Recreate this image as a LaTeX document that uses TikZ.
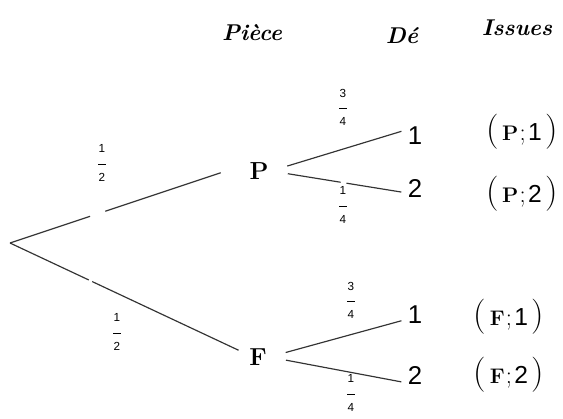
\documentclass[tikz,border=0pt]{standalone}
\usepackage{fontspec}
\newfontfamily\probfont{Liberation Sans}

\newcommand{\pfrac}[2]{#1\\[0pt]\rule[2pt]{6pt}{0.7pt}\\[0pt]#2}
\newcommand{\bigpar}[1]{{\fontsize{30}{32}\selectfont #1}}
\newcommand{\issue}[2]{\bigpar{(}\kern3pt{\fontsize{18}{20}\selectfont\bfseries #1}\kern1pt;\kern2pt{\probfont #2}\kern3pt\bigpar{)}}

\tikzset{
  branch/.style={line width=1pt, black!80},
  cut/.style={fill=white, inner sep=0pt, minimum width=#1, minimum height=4pt, sloped},
  event/.style={inner sep=2pt, font=\fontsize{21}{24}\selectfont\bfseries},
  face/.style={inner sep=2pt, font=\probfont\fontsize{22}{26}\selectfont},
  outcome/.style={inner sep=2pt, font=\fontsize{21}{24}\selectfont},
  prob/.style={inner sep=0pt, align=center, font=\probfont\fontsize{10}{12}\selectfont},
  head/.style={font=\fontsize{19.5}{24}\selectfont\bfseries\itshape}
}

\begin{document}
\begin{tikzpicture}[x=0.03cm, y=-0.03cm]
  \useasboundingbox (0,0) rectangle (563,418);
  % column titles
  \node[head] (hpiece) at (252,33) {Pièce};
  \node[head] (hde) at (402,36) {Dé};
  \node[head] (hissues) at (517,28) {Issues};
  % tree
  \coordinate (root) at (10,243);
  \node[event] (P) at (259,171) {P};
  \node[event] (F) at (258,357) {F};
  \node[face] (P1) at (415,136) {1};
  \node[face] (P2) at (415,188) {2};
  \node[face] (F1) at (415,315) {1};
  \node[face] (F2) at (415,375) {2};
  \draw[branch, shorten >=0.83cm] (root) -- node[cut=13.5pt, pos=0.37] {} ([yshift=6pt]P.west);
  \draw[branch, shorten >=0.27cm] (root) -- node[cut=3pt, pos=0.34] {} ([yshift=2.5pt]F.west);
  \draw[branch, shorten <=0.51cm, shorten >=0.12cm] (P.east) -- ([yshift=5pt]P1.west);
  \draw[branch, shorten <=0.51cm, shorten >=0.12cm] (P.east) -- node[cut=5pt, pos=0.54] {} ([yshift=-4pt]P2.west);
  \draw[branch, shorten <=0.51cm, shorten >=0.12cm] (F.east) -- ([yshift=-4pt]F1.west);
  \draw[branch, shorten <=0.51cm, shorten >=0.12cm] (F.east) -- ([yshift=-6.5pt]F2.west);
  % probabilities
  \node[prob] (pP) at (102,163) {\pfrac{1}{2}};
  \node[prob] (pF) at (117,332) {\pfrac{1}{2}};
  \node[prob] (pP1) at (343,107) {\pfrac{3}{4}};
  \node[prob] (pP2) at (343,205) {\pfrac{1}{4}};
  \node[prob] (pF1) at (351,300) {\pfrac{3}{4}};
  \node[prob] (pF2) at (351,393) {\pfrac{1}{4}};
  % outcomes
  \node[outcome] (iP1) at (522,132) {\issue{P}{1}};
  \node[outcome] (iP2) at (522,194) {\issue{P}{2}};
  \node[outcome] (iF1) at (509,317) {\issue{F}{1}};
  \node[outcome] (iF2) at (509,375) {\issue{F}{2}};
\end{tikzpicture}
\end{document}
